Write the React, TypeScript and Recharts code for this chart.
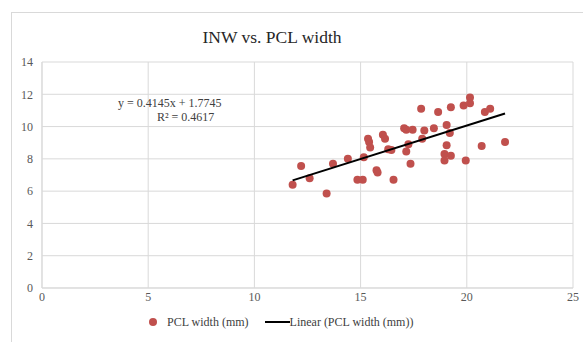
import React from 'react'
import { ScatterChart, Scatter, XAxis, YAxis, CartesianGrid, Legend } from 'recharts'

// INW (x) vs. PCL width (y), mm
const inw = [
  11.8, 12.2, 12.6, 13.4, 13.7, 14.4, 14.85, 15.1, 15.15, 15.35, 15.4, 15.45, 15.75, 15.8, 16.05,
  16.15, 16.3, 16.45, 16.55, 17.05, 17.15, 17.45, 17.15, 17.25, 17.35, 17.85, 18.0, 17.9, 18.45,
  18.65, 19.05, 19.25, 19.2, 19.85, 20.15, 20.15, 19.05, 18.95, 18.95, 19.25, 19.95, 20.85, 21.1,
  20.7, 21.8,
]
const pclWidth = [
  6.4, 7.55, 6.8, 5.85, 7.7, 8.0, 6.7, 6.7, 8.1, 9.25, 9.05, 8.7, 7.3, 7.15, 9.5,
  9.25, 8.6, 8.55, 6.7, 9.9, 9.8, 9.8, 8.45, 8.9, 7.7, 11.1, 9.75, 9.25, 9.9,
  10.9, 10.1, 11.2, 9.6, 11.3, 11.8, 11.45, 8.85, 8.3, 7.9, 8.2, 7.9, 10.9, 11.1,
  8.8, 9.05,
]
const xTicks = [0, 5, 10, 15, 20, 25]
const yTicks = [0, 2, 4, 6, 8, 10, 12, 14]

// trendline as shown on the chart
const slope = 0.4145
const intercept = 1.7745
const trendX = [Math.min(...inw), Math.max(...inw)]

const points = inw.map((x, i) => ({ x, y: pclWidth[i] }))
const trend = trendX.map((x) => ({ x, y: slope * x + intercept }))

const serif = '"Liberation Serif", "Times New Roman", serif'
const red = '#c0504d'
const grid = '#d9d9d9'
const tickStyle = { fill: '#595959', fontSize: 12, fontFamily: serif }

function LegendBox() {
  return (
    <div style={{ display: 'flex', alignItems: 'center', height: 20, paddingLeft: 137, fontFamily: serif, fontSize: 12, color: '#404040' }}>
      <span style={{ width: 8, height: 8, borderRadius: 4, background: red, marginRight: 10 }} />
      <span>PCL width (mm)</span>
      <span style={{ width: 25, height: 2, background: '#000', marginLeft: 16 }} />
      <span>Linear (PCL width (mm))</span>
    </div>
  )
}

export default function App() {
  return (
    <div style={{ position: 'absolute', left: 0, top: 0, width: 583, height: 342, background: '#fff', overflow: 'hidden' }}>
      <div style={{ position: 'absolute', left: 11, top: 12, width: 620, height: 400, border: `1px solid ${grid}` }} />
      <div style={{ position: 'absolute', left: 0, width: 544, top: 27, textAlign: 'center', fontFamily: serif, fontSize: 17.5, color: '#262626' }}>
        INW vs. PCL width
      </div>
      <ScatterChart width={583} height={342} margin={{ top: 62, right: 10, bottom: 10, left: 12 }} style={{ position: 'absolute', left: 0, top: 0 }}>
        <CartesianGrid stroke={grid} strokeWidth={1} />
        <XAxis type="number" dataKey="x" domain={[0, 25]} ticks={xTicks} tick={tickStyle} tickSize={0} tickMargin={4} height={24} axisLine={{ stroke: grid }} tickLine={false} />
        <YAxis type="number" dataKey="y" domain={[0, 14]} ticks={yTicks} tick={tickStyle} tickSize={0} tickMargin={9} width={30} axisLine={{ stroke: grid }} tickLine={false} />
        <Scatter name="PCL width (mm)" data={points} isAnimationActive={false} shape={(p: any) => <circle cx={p.cx} cy={p.cy} r={4} fill={red} />} />
        <Scatter name="Linear (PCL width (mm))" data={trend} isAnimationActive={false} line={{ stroke: '#000', strokeWidth: 2 }} shape={() => <g />} />
        <Legend verticalAlign="bottom" content={() => <LegendBox />} wrapperStyle={{ height: 20 }} />
      </ScatterChart>
      <div style={{ position: 'absolute', left: 118, top: 96, fontFamily: serif, fontSize: 12, color: '#404040', lineHeight: '14px' }}>
        y = 0.4145x + 1.7745
      </div>
      <div style={{ position: 'absolute', left: 157, top: 110, fontFamily: serif, fontSize: 12, color: '#404040', lineHeight: '14px' }}>
        R² = 0.4617
      </div>
    </div>
  )
}
